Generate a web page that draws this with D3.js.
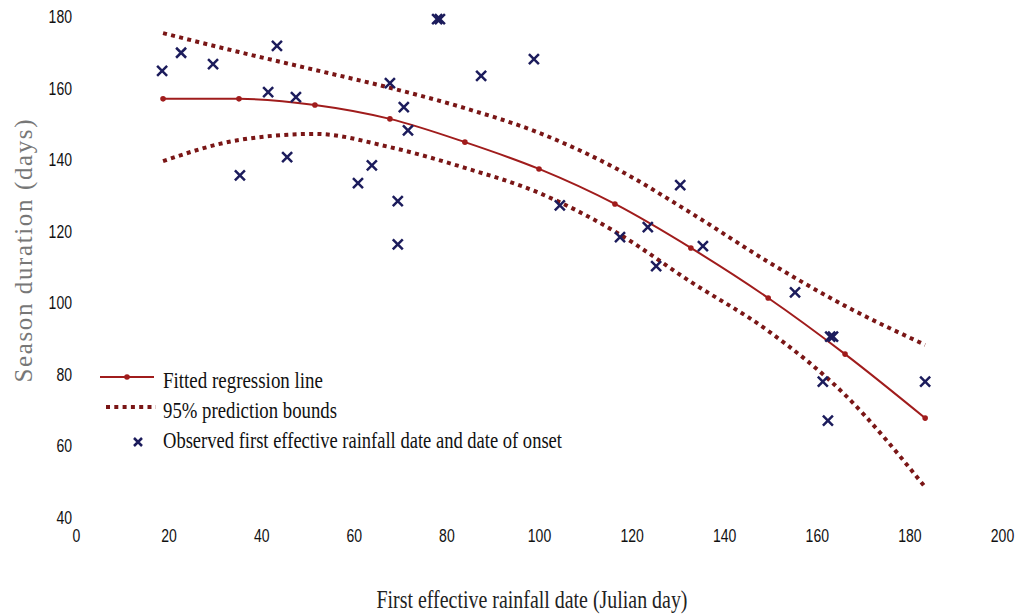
<!DOCTYPE html>
<html>
<head>
<meta charset="utf-8">
<script src="https://cdn.jsdelivr.net/npm/d3@7"></script>
<style>
  body { margin: 0; background: white; }
  .tick text { font-family: "Liberation Sans", Arial, sans-serif; font-size: 18px; fill: #111; }
</style>
</head>
<body>
<div id="canvas"></div>
<script>
const width = 1019;
const height = 615;

// fitted curve and 95% bounds, read at the marked points
const fitX = [18.8, 35.2, 51.6, 67.8, 84.0, 100.0, 116.4, 132.8, 149.5, 166.1, 183.4];
const fitY = [157.1, 157.1, 155.4, 151.5, 145.0, 137.5, 127.7, 115.4, 101.4, 85.7, 67.8];
const upperY = [175.5, 170.2, 165.2, 160.2, 154.5, 147.6, 137.8, 125.2, 111.5, 99.2, 88.3];
const lowerY = [139.7, 145.6, 147.3, 143.6, 137.8, 130.8, 120.0, 105.9, 92.2, 74.3, 48.5];

// observed points (first effective rainfall day, season length)
const obsX = [18.6, 22.7, 29.6, 43.4, 35.4, 41.5, 47.5, 45.6, 60.9, 63.9, 67.8, 70.8, 71.7, 69.5, 69.5,
    78.0, 78.6, 87.5, 98.9, 104.5, 117.5, 123.5, 125.3, 130.5, 135.4, 155.3, 162.9, 163.5, 161.3, 162.4, 183.4];
const obsY = [164.9, 170.0, 166.8, 171.9, 135.7, 159.0, 157.6, 140.8, 133.5, 138.5, 161.5, 154.8, 148.3, 128.5, 116.4,
    179.4, 179.4, 163.5, 168.2, 127.3, 118.4, 121.2, 110.3, 133.0, 115.9, 103.0, 90.6, 90.6, 78.0, 67.1, 78.0];

const xTicks = [0, 20, 40, 60, 80, 100, 120, 140, 160, 180, 200];
const yTicks = [40, 60, 80, 100, 120, 140, 160, 180];

const legendLabels = ["Fitted regression line", "95% prediction bounds", "Observed first effective rainfall date and date of onset"];

const lineColor = "#a01c1c";
const boundColor = "#7a1616";
const crossColor = "#1c1c5c";

const svg = d3.select("#canvas")
    .append("svg")
    .attr("width", width)
    .attr("height", height);

svg.append("rect")
    .attr("width", width)
    .attr("height", height)
    .attr("fill", "white");

const x = d3.scaleLinear().domain([0, 200]).range([76, 1002]);
const y = d3.scaleLinear().domain([40, 180]).range([517.5, 17]);


// axes: labels only, no lines; digits squeezed like the narrow original font
let xAxis = svg.append("g")
    .attr("transform", "translate(0," + y(40) + ")")
    .call(d3.axisBottom(x).tickValues(xTicks).tickSize(0).tickPadding(11.5));
xAxis.select(".domain").remove();

let yAxis = svg.append("g")
    .attr("transform", "translate(" + x(0) + ",0)")
    .call(d3.axisLeft(y).tickValues(yTicks).tickSize(0).tickPadding(4));
yAxis.select(".domain").remove();

svg.selectAll(".tick text")
    .attr("textLength", d => String(d).length * 7.8)
    .attr("lengthAdjust", "spacingAndGlyphs");


// prediction bounds
let curveLine = d3.line()
    .x(d => x(d[0]))
    .y(d => y(d[1]))
    .curve(d3.curveMonotoneX);

[upperY, lowerY].forEach(function(vals) {
    svg.append("path")
        .attr("d", curveLine(fitX.map((v, i) => [v, vals[i]])))
        .attr("fill", "none")
        .attr("stroke", boundColor)
        .attr("stroke-width", 4)
        .attr("stroke-dasharray", "4,4.3");
});

// fitted regression line
let fitPts = fitX.map((v, i) => [v, fitY[i]]);
svg.append("path")
    .attr("d", curveLine(fitPts))
    .attr("fill", "none")
    .attr("stroke", lineColor)
    .attr("stroke-width", 2);

svg.selectAll(".fitdot")
    .data(fitPts)
    .enter()
    .append("circle")
    .attr("cx", d => x(d[0]))
    .attr("cy", d => y(d[1]))
    .attr("r", 2.8)
    .attr("fill", lineColor);

// observed crosses
const crossPath = s => "M" + (-s) + "," + (-s) + "L" + s + "," + s + "M" + (-s) + "," + s + "L" + s + "," + (-s);

svg.selectAll(".obs")
    .data(obsX.map((v, i) => [v, obsY[i]]))
    .enter()
    .append("path")
    .attr("transform", d => "translate(" + x(d[0]) + "," + y(d[1]) + ")")
    .attr("d", crossPath(5))
    .attr("fill", "none")
    .attr("stroke", crossColor)
    .attr("stroke-width", 2.5);


// legend
let legend = svg.append("g");

legend.append("line")
    .attr("x1", 100).attr("x2", 154)
    .attr("y1", 377).attr("y2", 377)
    .attr("stroke", lineColor)
    .attr("stroke-width", 2);
legend.append("circle")
    .attr("cx", 127).attr("cy", 377)
    .attr("r", 2.8)
    .attr("fill", lineColor);

legend.append("line")
    .attr("x1", 106).attr("x2", 156)
    .attr("y1", 407).attr("y2", 407)
    .attr("stroke", boundColor)
    .attr("stroke-width", 4)
    .attr("stroke-dasharray", "4,4.3");

legend.append("path")
    .attr("transform", "translate(138,442)")
    .attr("d", crossPath(4))
    .attr("fill", "none")
    .attr("stroke", crossColor)
    .attr("stroke-width", 2.5);

const legendLengths = [160, 174, 399];
const legendBase = [388, 418, 448];

legend.selectAll(".legtext")
    .data(legendLabels)
    .enter()
    .append("text")
    .attr("x", 163)
    .attr("y", (d, i) => legendBase[i])
    .attr("textLength", (d, i) => legendLengths[i])
    .attr("lengthAdjust", "spacingAndGlyphs")
    .attr("font-family", "Liberation Serif, Times New Roman, serif")
    .attr("font-size", 24)
    .attr("fill", "#111")
    .text(d => d);


// axis titles
svg.append("text")
    .attr("x", 532)
    .attr("y", 608)
    .attr("text-anchor", "middle")
    .attr("textLength", 311)
    .attr("lengthAdjust", "spacingAndGlyphs")
    .attr("font-family", "Liberation Serif, Times New Roman, serif")
    .attr("font-size", 25)
    .attr("fill", "#222")
    .text("First effective rainfall date (Julian day)");

svg.append("text")
    .attr("transform", "translate(32,251) rotate(-90)")
    .attr("text-anchor", "middle")
    .attr("textLength", 263)
    .attr("font-family", "Liberation Serif, Times New Roman, serif")
    .attr("font-size", 25)
    .attr("fill", "#777")
    .text("Season duration (days)");
</script>
</body>
</html>
